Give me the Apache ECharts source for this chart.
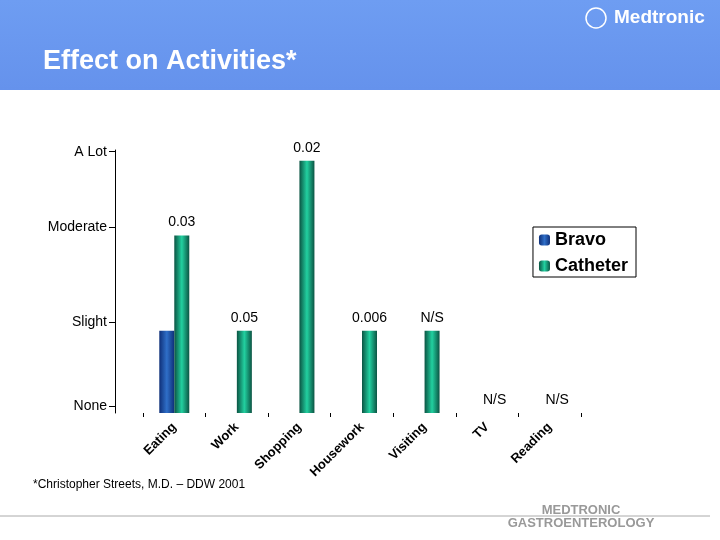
<!DOCTYPE html>
<html>
<head>
<meta charset="utf-8">
<script src="https://cdn.jsdelivr.net/npm/echarts@6/dist/echarts.min.js"></script>
<style>
  body { margin: 0; background: #fff; }
  #chart { width: 720px; height: 540px; }
</style>
</head>
<body>
<div id="chart"></div>
<script>
// activity categories
var categories = ['Eating', 'Work', 'Shopping', 'Housework', 'Visiting', 'TV', 'Reading'];
// effect level (None = 0 at baseline)
var bravo = [1, null, null, null, null, null, null];
var catheter = [2.16, 1, 3.07, 1, 1, 0, 0];
// p values shown above bars
var pLabels = ['0.03', '0.05', '0.02', '0.006', 'N/S', 'N/S', 'N/S'];
// y tick labels and where they sit
var levelNames = ['None', 'Slight', 'Moderate', 'A Lot'];
var levelPos = [0.085, 1.1, 2.26, 3.18];

function barGrad(dark, light) {
  return new echarts.graphic.LinearGradient(0, 0, 1, 0, [
    { offset: 0, color: dark }, { offset: 0.5, color: light }, { offset: 1, color: dark }
  ]);
}

var myChart = echarts.init(document.getElementById('chart'));
var option = {
  animation: false,
  textStyle: { fontFamily: 'Liberation Sans, Arial, sans-serif' },
  graphic: [
    { type: 'rect', left: 0, top: 0, shape: { width: 720, height: 90 },
      style: { fill: new echarts.graphic.LinearGradient(0, 0, 0, 1, [
        { offset: 0, color: '#6e9df2' }, { offset: 1, color: '#6592ec' }]) } },
    { type: 'text', left: 43, top: 48, style: { text: 'Effect on Activities*', fill: '#fff',
      font: 'bold 27px Liberation Sans, Arial' } },
    { type: 'text', left: 614, top: 8, style: { text: 'Medtronic', fill: '#fff',
      font: 'bold 19px Liberation Sans, Arial' } },
    { type: 'circle', shape: { cx: 596, cy: 18, r: 10 }, style: { fill: 'none', stroke: '#fff', lineWidth: 1.5 } },
    { type: 'text', left: 33, top: 479, style: { text: '*Christopher Streets, M.D. – DDW 2001', fill: '#000',
      font: '12px Liberation Sans, Arial' } },
    { type: 'line', shape: { x1: 0, y1: 516, x2: 710, y2: 516 }, style: { stroke: '#aaa', lineWidth: 1 } },
    { type: 'text', x: 581, y: 504, style: { text: 'MEDTRONIC\nGASTROENTEROLOGY', fill: '#999', align: 'center',
      font: 'bold 13px Liberation Sans, Arial', lineHeight: 13 } }
  ],
  legend: {
    right: 84, top: 227, orient: 'vertical', backgroundColor: '#fff', borderColor: '#000', borderWidth: 1,
    padding: [4, 8, 2, 6], itemWidth: 11, itemHeight: 11, itemGap: 8,
    textStyle: { fontSize: 18, fontWeight: 'bold', color: '#000' }
  },
  grid: { left: 143, right: 139, top: 150, bottom: 127 },
  xAxis: {
    type: 'category', data: categories,
    axisLine: { show: false },
    axisTick: { show: true, lineStyle: { color: '#000' }, length: 4 },
    axisLabel: { rotate: 45, fontSize: 13, fontWeight: 'bold', color: '#000', margin: 12 }
  },
  yAxis: {
    type: 'value', min: 0, max: 3.2, offset: 28,
    axisLine: { show: true, lineStyle: { color: '#000' } },
    axisTick: { show: true, length: 6, lineStyle: { color: '#000' }, customValues: levelPos },
    splitLine: { show: false },
    axisLabel: { fontSize: 14, color: '#000', margin: 8, customValues: levelPos,
      formatter: function (v) { return levelNames[levelPos.indexOf(v)]; } }
  },
  series: [
    { name: 'Bravo', type: 'bar', data: bravo, barWidth: 15, barGap: '0%',
      itemStyle: { color: barGrad('#0e2f78', '#2f6fc8') } },
    { name: 'Catheter', type: 'bar', data: catheter, barWidth: 15,
      itemStyle: { color: barGrad('#0b5443', '#22d0a0') },
      label: { show: true, position: 'top', distance: 6, fontSize: 14, color: '#000',
        formatter: function (p) { return pLabels[p.dataIndex]; } } }
  ]
};
myChart.setOption(option);
</script>
</body>
</html>
